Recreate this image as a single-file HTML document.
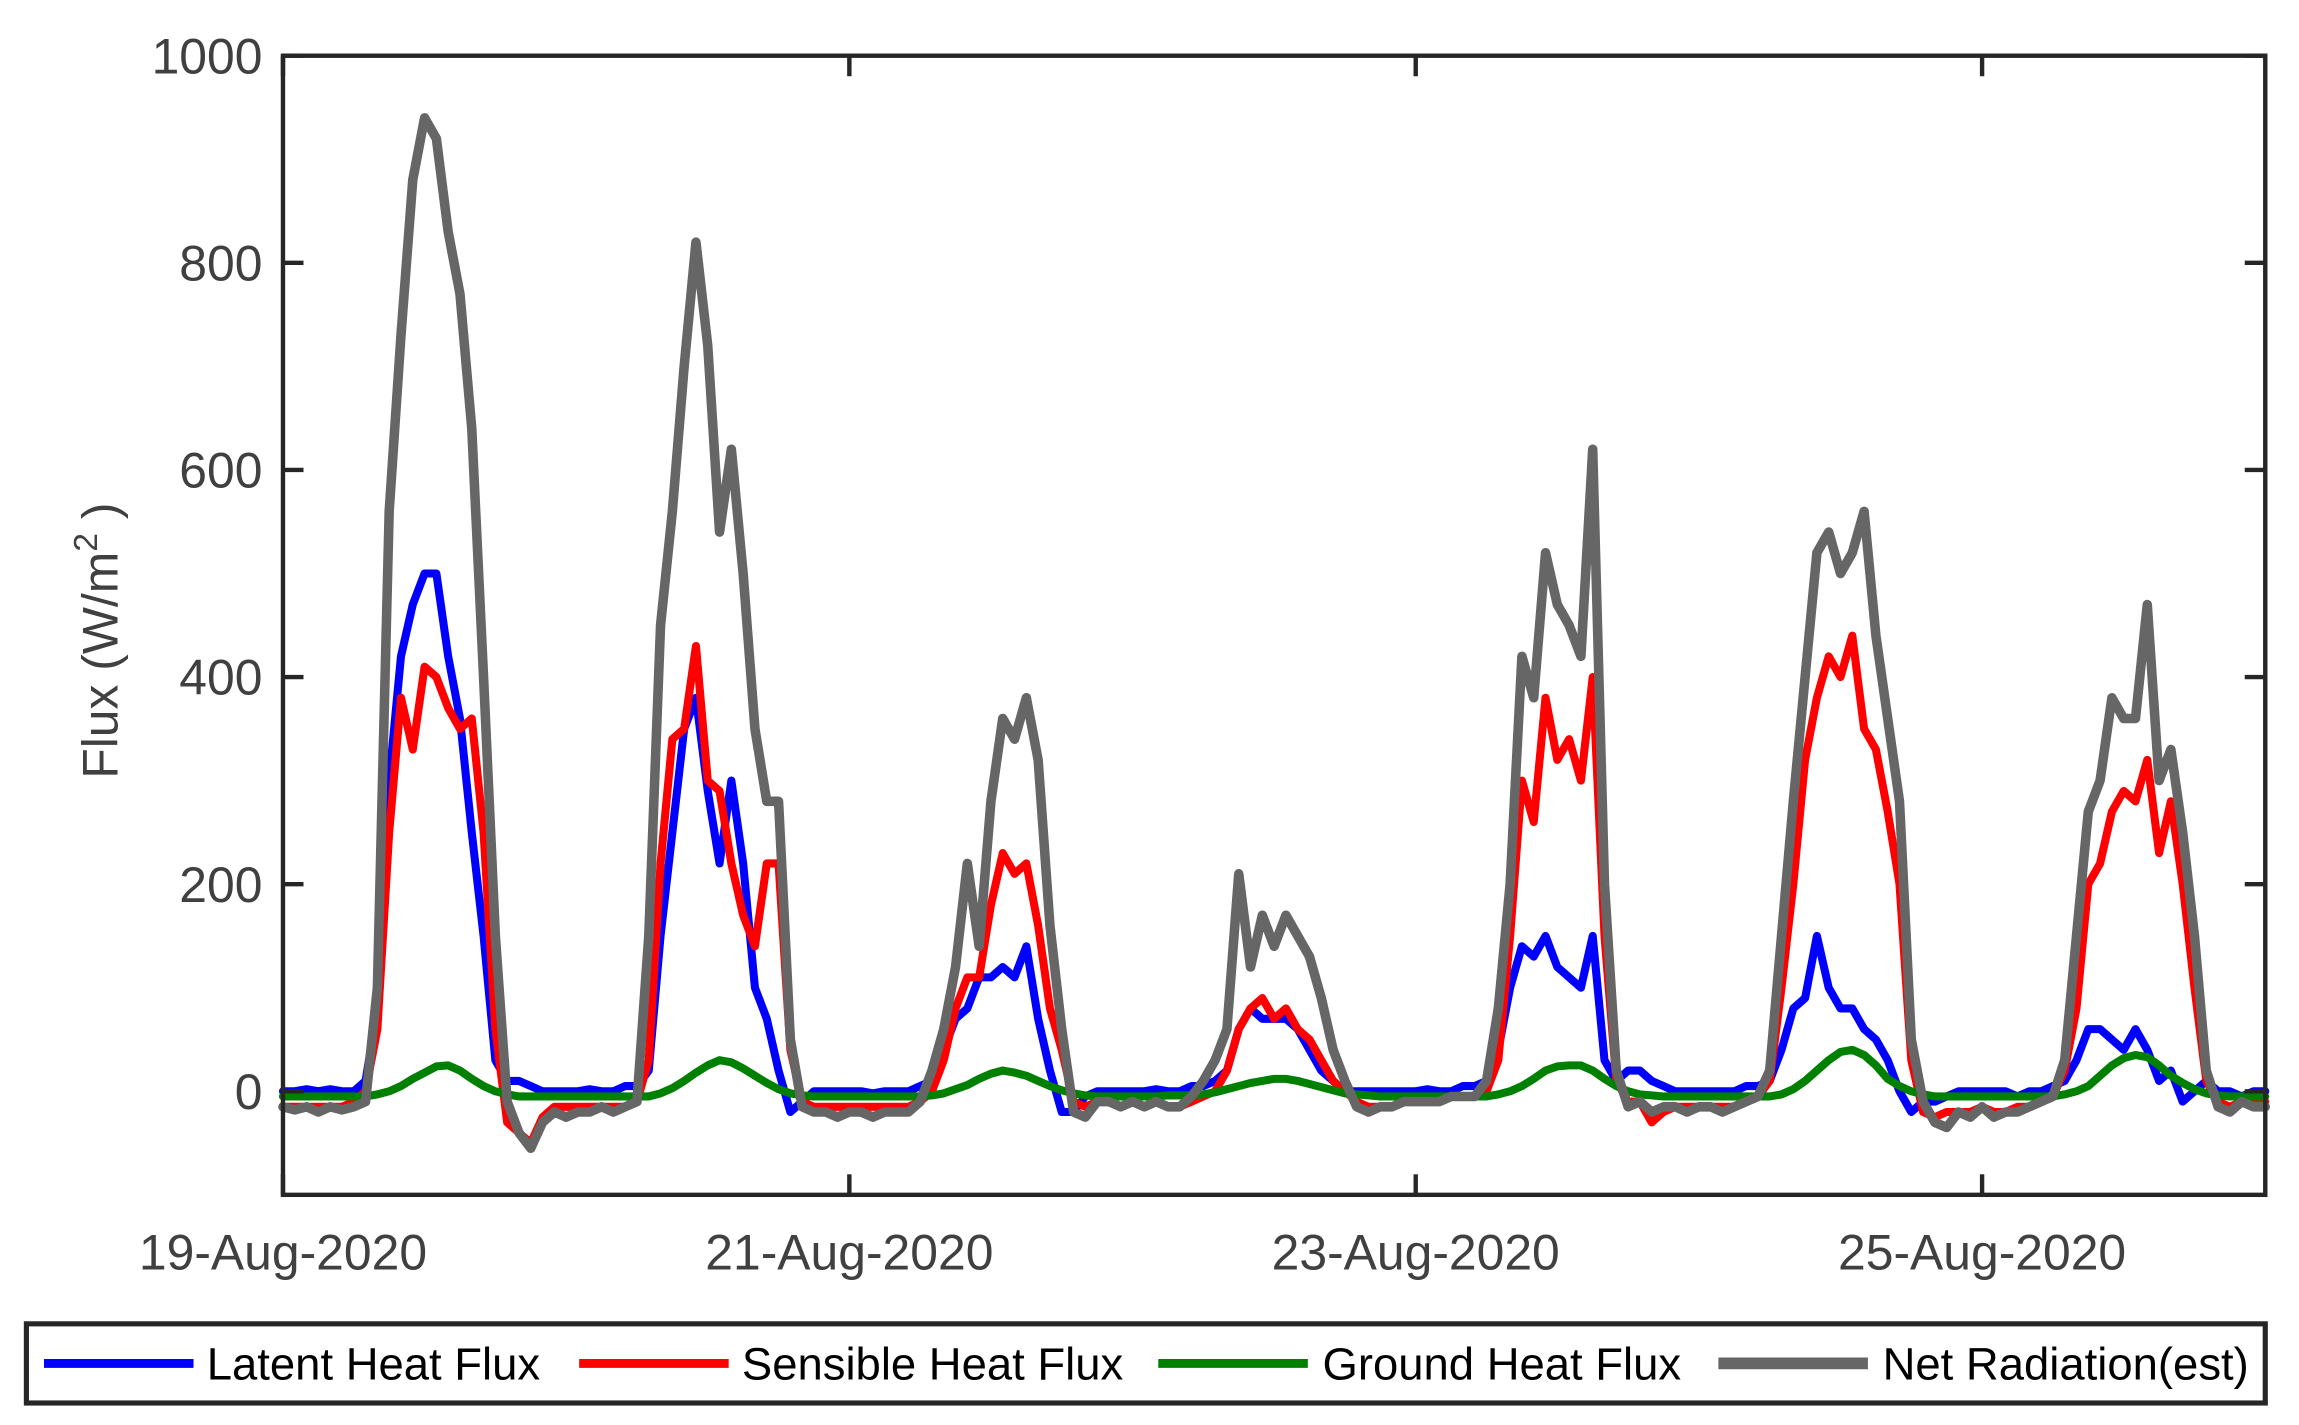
<!DOCTYPE html>
<html><head><meta charset="utf-8"><style>
html,body{margin:0;padding:0;background:#fff;}
svg{display:block;}
</style></head><body>
<svg id="chart" width="2299" height="1425" viewBox="0 0 1568 972" preserveAspectRatio="none" xmlns="http://www.w3.org/2000/svg" font-family="Liberation Sans, Arial, sans-serif">
<rect x="0" y="0" width="1568" height="972" fill="#fff"/>
<g id="plot"></g>
<g id="axes"></g>
<text transform="translate(80,437) rotate(-90)" text-anchor="middle" font-size="34" fill="#404040">Flux (W/m<tspan font-size="23" dy="-14">2</tspan><tspan dy="14"> )</tspan></text>
<g id="legend">
<rect x="18" y="903" width="1527" height="54" fill="#fff" stroke="#262626" stroke-width="3.5"/>
<g><line x1="30" y1="930" x2="132" y2="930" stroke="#0000ff" stroke-width="6"/><text x="141" y="941" font-size="31" fill="#000">Latent Heat Flux</text></g>
<g><line x1="395" y1="930" x2="497" y2="930" stroke="#ff0000" stroke-width="6"/><text x="506" y="941" font-size="31" fill="#000">Sensible Heat Flux</text></g>
<g><line x1="790" y1="930" x2="892" y2="930" stroke="#008000" stroke-width="6"/><text x="902" y="941" font-size="31" fill="#000">Ground Heat Flux</text></g>
<g><line x1="1172" y1="930" x2="1274" y2="930" stroke="#666666" stroke-width="8"/><text x="1284" y="941" font-size="31" fill="#000">Net Radiation(est)</text></g>
</g>
</svg>
<script>
// hourly samples starting 19-Aug-2020 00:00
const dateTickLabels = ["19-Aug-2020","21-Aug-2020","23-Aug-2020","25-Aug-2020"];
const dateTickHours = [0,48,96,144];
const yTicks = [0,200,400,600,800,1000];
const latent = [
0,0,2,0,2,0,0,10,80,300,420,470,500,500,420,360,250,150,30,10,10,5,0,0,
0,0,2,0,0,5,5,20,150,250,350,380,290,220,300,220,100,70,20,-20,-10,0,0,0,
0,0,-2,0,0,0,5,10,40,70,80,110,110,120,110,140,70,20,-20,-20,-5,0,0,0,
0,0,2,0,0,5,5,10,20,60,80,70,70,70,60,40,20,10,0,0,0,0,0,0,
0,2,0,0,5,5,10,40,100,140,130,150,120,110,100,150,30,10,20,20,10,5,0,0,
0,0,0,0,5,5,10,40,80,90,150,100,80,80,60,50,30,0,-20,-10,-10,-5,0,0,
0,0,0,-5,0,0,5,10,30,60,60,50,40,60,40,10,20,-10,0,10,0,0,-5,0,0];
const sensible = [
-15,-15,-15,-15,-15,-15,-10,0,60,250,380,330,410,400,370,350,360,250,60,-30,-40,-50,-25,-15,
-15,-15,-15,-15,-15,-15,-10,30,220,340,350,430,300,290,220,170,140,220,220,40,-10,-15,-15,-15,
-15,-15,-15,-15,-15,-15,-10,0,30,80,110,110,180,230,210,220,160,80,40,-10,-15,-10,-10,-15,
-10,-15,-10,-15,-15,-10,-5,0,20,60,80,90,70,80,60,50,30,10,0,-10,-15,-15,-15,-10,
-10,-10,-10,-5,-5,-5,0,30,150,300,260,380,320,340,300,400,150,10,-10,-10,-30,-20,-15,-15,
-15,-15,-15,-15,-10,-5,10,100,200,320,380,420,400,440,350,330,270,200,30,-20,-25,-20,-20,-20,
-15,-20,-20,-15,-15,-10,-5,20,80,200,220,270,290,280,320,230,280,200,100,10,-10,-15,-10,-10,-10];
const ground = [
-5,-5,-5,-5,-5,-5,-5,-5,-3,0,5,12,18,24,25,20,12,5,0,-3,-5,-5,-5,-5,
-5,-5,-5,-5,-5,-5,-5,-5,-2,3,10,18,25,30,28,22,15,8,2,-2,-4,-5,-5,-5,
-5,-5,-5,-5,-5,-5,-5,-4,-2,2,6,12,17,20,18,15,10,5,1,-2,-4,-5,-5,-5,
-5,-5,-5,-4,-4,-4,-3,-1,2,5,8,10,12,12,10,7,4,1,-2,-3,-4,-5,-5,-5,
-5,-5,-5,-5,-5,-5,-5,-3,0,5,12,20,24,25,25,20,12,5,0,-3,-4,-5,-5,-5,
-5,-5,-5,-5,-5,-5,-5,-3,2,10,20,30,38,40,35,25,12,5,0,-3,-5,-5,-5,-5,
-5,-5,-5,-5,-5,-5,-5,-3,0,5,15,25,32,35,33,25,15,8,2,-2,-4,-5,-5,-5,-5];
const netRadiation = [
-15,-18,-15,-20,-15,-18,-15,-10,100,560,730,880,940,920,830,770,640,400,150,-10,-40,-55,-30,-20,
-25,-20,-20,-15,-20,-15,-10,150,450,560,700,820,720,540,620,500,350,280,280,50,-15,-20,-20,-25,
-20,-20,-25,-20,-20,-20,-10,20,60,120,220,140,280,360,340,380,320,160,60,-20,-25,-10,-10,-15,
-10,-15,-10,-15,-15,-5,10,30,60,210,120,170,140,170,150,130,90,40,10,-15,-20,-15,-15,-10,
-10,-10,-10,-5,-5,-5,10,80,200,420,380,520,470,450,420,620,200,20,-15,-10,-20,-15,-15,-20,
-15,-15,-20,-15,-10,-5,20,150,280,400,520,540,500,520,560,440,360,280,50,-10,-30,-35,-20,-25,
-15,-25,-20,-20,-15,-10,-5,30,150,270,300,380,360,360,470,300,330,250,150,20,-15,-20,-10,-15,-15];

const PX0=193, PX1=1545, PY0=38, PY1=815;
const XMIN=0, XMAX=168, YMIN=-100, YMAX=1000;
function xs(h){return PX0+(h-XMIN)/(XMAX-XMIN)*(PX1-PX0);}
function ys(v){return PY1-(v-YMIN)/(YMAX-YMIN)*(PY1-PY0);}
const NS="http://www.w3.org/2000/svg";
const plot=document.getElementById('plot');
const axes=document.getElementById('axes');
function mk(tag,attrs,parent){const e=document.createElementNS(NS,tag);for(const k in attrs)e.setAttribute(k,attrs[k]);parent.appendChild(e);return e;}

function drawSeries(arr,color,w,name){
  const pts=arr.map((v,i)=>xs(i).toFixed(2)+","+ys(v).toFixed(2)).join(" ");
  const pl=mk('polyline',{points:pts,fill:"none",stroke:color,"stroke-width":w,"stroke-linejoin":"round","stroke-linecap":"round"},plot);
  
  
}
drawSeries(latent,"#0000ff",5.5,"latent-heat-flux-line");
drawSeries(sensible,"#ff0000",5.5,"sensible-heat-flux-line");
drawSeries(ground,"#008000",5.5,"ground-heat-flux-line");
drawSeries(netRadiation,"#666666",6.5,"net-radiation-line");

const fr=mk('rect',{x:PX0,y:PY0,width:PX1-PX0,height:PY1-PY0,fill:"none",stroke:"#262626","stroke-width":3},axes);


yTicks.forEach(v=>{
  const y=ys(v);
  const t1=mk('line',{x1:PX0,y1:y,x2:PX0+14,y2:y,stroke:"#262626","stroke-width":3},axes);
  
  
  const t2=mk('line',{x1:PX1,y1:y,x2:PX1-14,y2:y,stroke:"#262626","stroke-width":3},axes);
  
  
  const tx=mk('text',{x:PX0-14,y:y+12,"text-anchor":"end","font-size":34,fill:"#404040"},axes);
  tx.textContent=String(v);
  
  
});
dateTickHours.forEach((h,i)=>{
  const x=xs(h);
  const t1=mk('line',{x1:x,y1:PY1,x2:x,y2:PY1-14,stroke:"#262626","stroke-width":3},axes);
  
  
  const t2=mk('line',{x1:x,y1:PY0,x2:x,y2:PY0+14,stroke:"#262626","stroke-width":3},axes);
  
  
  const tx=mk('text',{x:x,y:866,"text-anchor":"middle","font-size":34,fill:"#404040"},axes);
  tx.textContent=dateTickLabels[i];
  
  
});
</script>
</body></html>
